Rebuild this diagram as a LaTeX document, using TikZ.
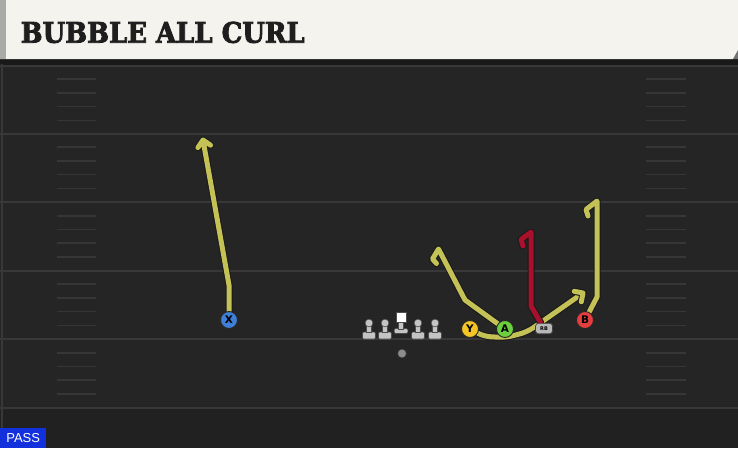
\documentclass[tikz,border=0pt]{standalone}
\usepackage{fontspec}
\usepackage{graphicx}
\setmainfont{DejaVu Serif}
\newfontfamily\titlefont{DejaVu Serif}[UprightFont=* Bold, FakeBold=3]
\newfontfamily\labfont{DejaVu Sans}
\newfontfamily\passfont{Liberation Sans}
\definecolor{hdrbg}{HTML}{F5F3ED}
\definecolor{hdrstrip}{HTML}{A9ABA8}
\definecolor{titlecol}{HTML}{1E1E1E}
\definecolor{fieldbg}{HTML}{252525}
\definecolor{fieldlow}{HTML}{212121}
\definecolor{yardcol}{HTML}{383838}
\definecolor{hashcol}{HTML}{363636}
\definecolor{routey}{HTML}{C4C157}
\definecolor{router}{HTML}{A8102C}
\definecolor{xblue}{HTML}{3E80D8}
\definecolor{yyel}{HTML}{F5C526}
\definecolor{agreen}{HTML}{6CD03E}
\definecolor{bred}{HTML}{E43E3E}
\definecolor{rbgray}{HTML}{B8B8B8}
\definecolor{lmgray}{HTML}{C4C4C4}
\definecolor{passblue}{HTML}{1230DC}
\tikzset{
  yard/.style={draw=yardcol, line width=2pt},
  hashmark/.style={draw=hashcol, line width=1.6pt},
  route/.style={draw=routey, line width=5pt, line join=round, line cap=round,
    preaction={draw=black!90, line width=7pt, line join=round, line cap=round}},
  redroute/.style={route, draw=router},
  player/.style={circle, draw=black!85, line width=0.9pt, minimum size=17pt, inner sep=0pt,
    font=\labfont\bfseries\fontsize{10.5}{10.5}\selectfont},
  rbbox/.style={rounded corners=3pt, fill=rbgray, draw=black!75, line width=0.7pt,
    minimum width=17pt, minimum height=10.5pt, inner sep=0pt,
    font=\labfont\bfseries\fontsize{5}{5}\selectfont},
  lineman/.pic={
    \filldraw[fill=lmgray, draw=black!70, line width=0.6pt, rounded corners=1.2pt] (-6.5,2) rectangle (6.5,9);
    \filldraw[fill=lmgray, draw=black!70, line width=0.6pt] (-2.6,-4.5) rectangle (2.6,2.5);
    \filldraw[fill=lmgray, draw=black!70, line width=0.6pt] (0,-7) circle (3.9);
  },
  centerman/.pic={
    \filldraw[fill=lmgray, draw=black!70, line width=0.6pt, rounded corners=1.2pt] (-6.8,-1.5) rectangle (6.8,3.5);
    \filldraw[fill=lmgray, draw=black!70, line width=0.6pt] (-2.6,-8) rectangle (2.6,-1);
    \filldraw[fill=white, draw=black!70, line width=0.6pt] (-4.8,-17.5) rectangle (4.8,-7.5);
  }
}
\begin{document}
\begin{tikzpicture}[x=1pt,y=-1pt]
\useasboundingbox (0,0) rectangle (738,448);
% field
\fill[fieldbg] (0,59) rectangle (738,448);
\fill[fieldlow] (0,408) rectangle (738,448);
\fill[black!90] (0,59) rectangle (738,64.5);
\draw[draw=yardcol, line width=1.5pt] (2,64) -- (2,448);
% yard lines and hashes
\foreach \yl in {65.5,133.5,202,270.5,339,407.5}{
  \draw[yard] (0,\yl) -- (738,\yl);
}
\foreach \yl in {65.5,133.5,202,270.5,339}{
  \foreach \k in {1,2,3,4}{
    \draw[hashmark] (57,\yl+13.7*\k) -- (96,\yl+13.7*\k);
    \draw[hashmark] (646,\yl+13.7*\k) -- (686,\yl+13.7*\k);
  }
}
% header
\fill[hdrbg] (0,0) -- (738,0) -- (738,50) -- (733,59) -- (0,59) -- cycle;
\fill[black!55] (738,50) -- (733,59) -- (738,59) -- cycle;
\fill[hdrstrip] (0,0) rectangle (5.5,59);
\node[anchor=base west, inner sep=0pt, text=titlecol] (title) at (20.5,42.7)
  {\resizebox{284pt}{21pt}{\titlefont BUBBLE ALL CURL}};
% players
\node[player, fill=xblue] (X) at (229,320) {X};
\node[player, fill=yyel] (Y) at (470,329) {Y};
\node[player, fill=agreen] (A) at (505,329) {A};
\node[player, fill=bred] (B) at (585,320) {B};
\node[rbbox] (RB) at (544,328.5) {RB};
% route waypoints
\coordinate (x1) at (229,285);
\coordinate (xT) at (203,140);
\coordinate (xL) at (197.9,147.6);
\coordinate (xR) at (210.6,145.2);
\coordinate (y1) at (484,336.5);
\coordinate (y2) at (506,337.5);
\coordinate (y3) at (527,332);
\coordinate (y4) at (543,321);
\coordinate (yT) at (583,293);
\coordinate (yL) at (574.2,291.3);
\coordinate (yR) at (581.3,301.8);
\coordinate (a1) at (465,300);
\coordinate (aT) at (438.5,249);
\coordinate (aF) at (432.5,259);
\coordinate (aN) at (436.5,263.5);
\coordinate (r1) at (531,306);
\coordinate (rT) at (531,232);
\coordinate (rF) at (521,239.5);
\coordinate (rN) at (523,246);
\coordinate (b1) at (597,297);
\coordinate (bT) at (597,201);
\coordinate (bF) at (586,209.5);
\coordinate (bN) at (588,216);
% routes
\draw[route] (X) -- (x1) -- (xT) -- (xL) (xT) -- (xR);
\draw[route] (A) -- (a1) -- (aT) -- (aF) -- (aN);
\draw[route, rounded corners=7pt] (Y) -- (y1) -- (y2) -- (y3) -- (y4) -- (yT);
\draw[route] (yL) -- (yT) -- (yR);
\draw[redroute] (RB) -- (r1) -- (rT) -- (rF) -- (rN);
\draw[route] (B) -- (b1) -- (bT) -- (bF) -- (bN);
% redraw players on top
\node[player, fill=xblue] at (X) {X};
\node[player, fill=yyel] at (Y) {Y};
\node[player, fill=agreen] at (A) {A};
\node[player, fill=bred] at (B) {B};
\node[rbbox] at (RB) {RB};
% offensive line
\pic (lt) at (369,330) {lineman};
\pic (lg) at (385,330) {lineman};
\pic (cc) at (401,330) {centerman};
\pic (rg) at (418,330) {lineman};
\pic (rt) at (435,330) {lineman};
\node[circle, fill=black!45, draw=black!70, line width=0.4pt, minimum size=8.5pt, inner sep=0pt] (ball) at (402,353.5) {};
% pass tag
\node[fill=passblue, anchor=south west, minimum width=46pt, minimum height=20pt, inner sep=0pt,
  text=white, font=\passfont\fontsize{13}{13}\selectfont] (pass) at (0,448) {PASS};
\end{tikzpicture}
\end{document}
